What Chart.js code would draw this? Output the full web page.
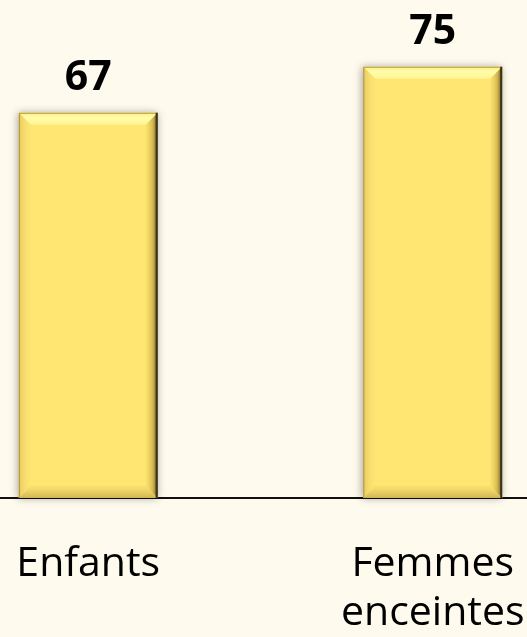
<!DOCTYPE html>
<html>
<head>
<meta charset="utf-8">
<script src="https://cdn.jsdelivr.net/npm/chart.js@4"></script>
<style>
  html, body { margin: 0; padding: 0; background: #fefaed; overflow: hidden; }
  #wrap { position: absolute; left: -84px; top: 0; width: 689px; height: 637px; }
</style>
</head>
<body>
<div id="wrap"><canvas id="chart" width="689" height="637"></canvas></div>
<script>
var categories = [['Enfants'], ['Femmes', 'enceintes']];
var values = [67, 75];
var yMax = 80;

// soft shadow behind the bars
var shadow = {
    id: 'shadow',
    beforeDatasetsDraw: function(chart) {
        var ctx = chart.ctx;
        chart.getDatasetMeta(0).data.forEach(function(bar) {
            ctx.save();
            ctx.shadowColor = 'rgba(0, 0, 0, 0.35)';
            ctx.shadowBlur = 8;
            ctx.shadowOffsetX = -1;
            ctx.fillStyle = '#ffe673';
            ctx.fillRect(bar.x - bar.width / 2, bar.y, bar.width, bar.base - bar.y);
            ctx.restore();
        });
    }
};

// bevel look + value labels above the bars
var bevel = {
    id: 'bevel',
    afterDatasetsDraw: function(chart) {
        var ctx = chart.ctx;
        var meta = chart.getDatasetMeta(0);
        meta.data.forEach(function(bar, i) {
            var l = bar.x - bar.width / 2, r = bar.x + bar.width / 2;
            var t = bar.y, b = bar.base, d = 12;
            ctx.save();
            // top light band
            var g = ctx.createLinearGradient(0, t, 0, t + d);
            g.addColorStop(0, 'rgba(255, 238, 130, 1)');
            g.addColorStop(0.4, 'rgba(255, 252, 170, 1)');
            g.addColorStop(1, 'rgba(255, 246, 150, 0.9)');
            ctx.fillStyle = g;
            ctx.beginPath();
            ctx.moveTo(l, t); ctx.lineTo(r, t); ctx.lineTo(r - d, t + d); ctx.lineTo(l + d, t + d);
            ctx.closePath(); ctx.fill();
            // right dark edge
            g = ctx.createLinearGradient(r - d, 0, r, 0);
            g.addColorStop(0, 'rgba(240, 215, 100, 0.3)');
            g.addColorStop(0.6, 'rgba(200, 170, 70, 0.8)');
            g.addColorStop(1, 'rgba(90, 75, 30, 1)');
            ctx.fillStyle = g;
            ctx.beginPath();
            ctx.moveTo(r, t); ctx.lineTo(r, b); ctx.lineTo(r - d, b - d); ctx.lineTo(r - d, t + d);
            ctx.closePath(); ctx.fill();
            // bottom edge
            g = ctx.createLinearGradient(0, b - d, 0, b);
            g.addColorStop(0, 'rgba(240, 215, 100, 0.4)');
            g.addColorStop(1, 'rgba(200, 175, 80, 0.9)');
            ctx.fillStyle = g;
            ctx.beginPath();
            ctx.moveTo(l, b); ctx.lineTo(r, b); ctx.lineTo(r - d, b - d); ctx.lineTo(l + d, b - d);
            ctx.closePath(); ctx.fill();
            // left edge
            g = ctx.createLinearGradient(l, 0, l + d, 0);
            g.addColorStop(0, 'rgba(215, 185, 80, 0.6)');
            g.addColorStop(1, 'rgba(245, 220, 110, 0.1)');
            ctx.fillStyle = g;
            ctx.beginPath();
            ctx.moveTo(l, t); ctx.lineTo(l, b); ctx.lineTo(l + d, b - d); ctx.lineTo(l + d, t + d);
            ctx.closePath(); ctx.fill();
            // thin outline
            ctx.strokeStyle = 'rgba(150, 130, 60, 0.8)';
            ctx.lineWidth = 1;
            ctx.beginPath();
            ctx.moveTo(l + 0.5, b); ctx.lineTo(l + 0.5, t + 0.5); ctx.lineTo(r, t + 0.5);
            ctx.stroke();
            ctx.strokeStyle = '#3b3320';
            ctx.lineWidth = 2;
            ctx.beginPath();
            ctx.moveTo(r - 1, t); ctx.lineTo(r - 1, b);
            ctx.stroke();
            ctx.restore();

            ctx.save();
            ctx.fillStyle = '#000';
            ctx.font = 'bold 41px "Open Sans"';
            ctx.textAlign = 'center';
            ctx.textBaseline = 'middle';
            ctx.fillText(values[i], bar.x, t - 34);
            ctx.restore();
        });
    }
};

var barChart = new Chart(document.getElementById('chart'), {
    type: 'bar',
    data: {
        labels: categories,
        datasets: [{
            data: values,
            backgroundColor: '#ffe673',
            borderWidth: 0,
            barPercentage: 0.403,
            categoryPercentage: 1
        }]
    },
    options: {
        responsive: false,
        animation: false,
        layout: { padding: { top: 38, left: 0, right: 0, bottom: 0 } },
        plugins: {
            legend: { display: false },
            tooltip: { enabled: false }
        },
        scales: {
            x: {
                grid: { display: false },
                border: { display: true, color: '#111', width: 2 },
                ticks: {
                    color: '#000',
                    font: { family: 'Open Sans', size: 41, lineHeight: 1.2 },
                    padding: 34,
                    maxRotation: 0
                },
                afterFit: function(scale) {
                    scale.height = 139;
                }
            },
            y: {
                display: false,
                min: 0,
                max: yMax
            }
        }
    },
    plugins: [shadow, bevel]
});
</script>
</body>
</html>
